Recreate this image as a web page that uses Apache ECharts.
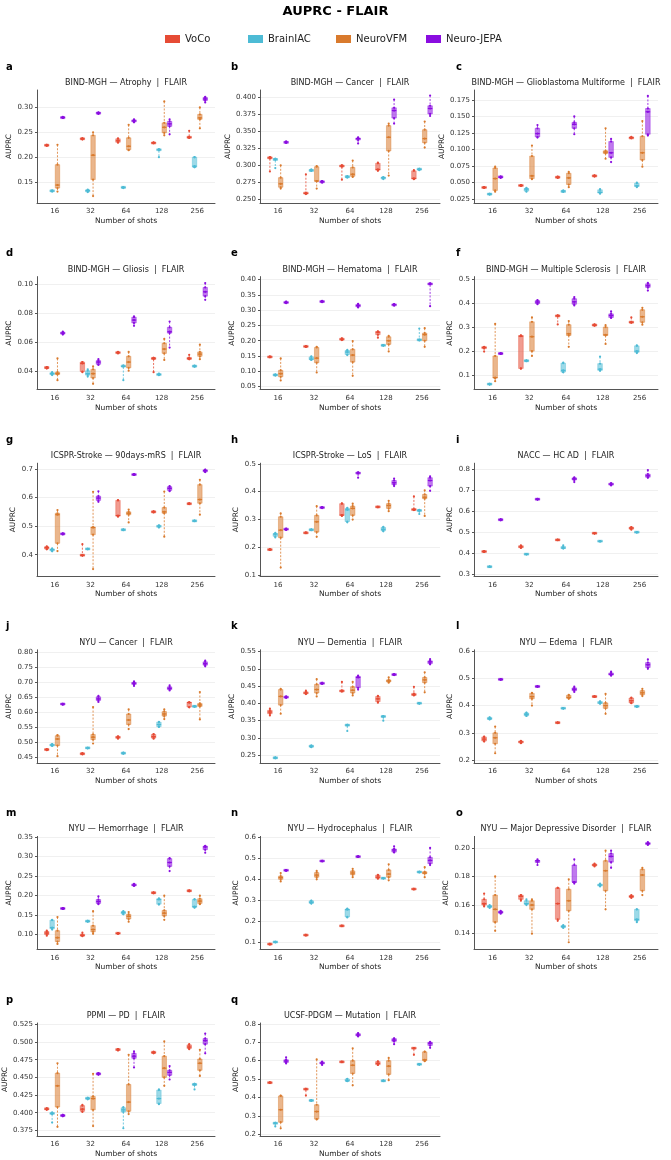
<!DOCTYPE html>
<html>
<head>
<meta charset="utf-8">
<script src="https://cdn.jsdelivr.net/npm/echarts@6/dist/echarts.min.js"></script>
<style>
  html, body { margin: 0; padding: 0; background: #fff; }
  #chart { width: 671px; height: 1160px; }
</style>
</head>
<body>
<div id="chart"></div>
<script>
const shots = ['16', '32', '64', '128', '256']
const models = ['VoCo', 'BrainIAC', 'NeuroVFM', 'Neuro-JEPA']
const colors = ['#E64B35', '#4DBBD5', '#D97A2D', '#8A0DE0']

// every box: [min, q1, median, q3, max], one per shot; rows = VoCo, BrainIAC, NeuroVFM, Neuro-JEPA
const atrophy = [
  [[0.223,0.223,0.224,0.225,0.225],[0.236,0.236,0.237,0.238,0.238],[0.229,0.230,0.233,0.237,0.238],[0.228,0.228,0.229,0.229,0.230],[0.239,0.239,0.240,0.241,0.253]],
  [[0.131,0.132,0.132,0.133,0.133],[0.130,0.131,0.133,0.134,0.135],[0.138,0.139,0.139,0.140,0.140],[0.200,0.214,0.215,0.216,0.216],[0.180,0.180,0.182,0.200,0.200]],
  [[0.131,0.138,0.144,0.185,0.225],[0.122,0.155,0.204,0.244,0.250],[0.214,0.215,0.222,0.239,0.265],[0.244,0.249,0.260,0.269,0.312],[0.258,0.276,0.279,0.286,0.300]],
  [[0.279,0.279,0.280,0.280,0.281],[0.287,0.288,0.289,0.289,0.290],[0.270,0.271,0.273,0.275,0.276],[0.246,0.262,0.267,0.272,0.276],[0.310,0.314,0.317,0.320,0.321]]
]
const bindCancer = [
  [[0.291,0.310,0.311,0.312,0.312],[0.258,0.259,0.259,0.260,0.287],[0.279,0.298,0.299,0.300,0.300],[0.292,0.293,0.294,0.303,0.304],[0.280,0.280,0.281,0.292,0.293]],
  [[0.296,0.308,0.309,0.309,0.310],[0.292,0.292,0.293,0.293,0.294],[0.282,0.283,0.283,0.284,0.284],[0.280,0.281,0.282,0.282,0.283],[0.293,0.294,0.294,0.295,0.295]],
  [[0.266,0.268,0.273,0.282,0.300],[0.266,0.277,0.277,0.298,0.299],[0.283,0.284,0.287,0.297,0.307],[0.285,0.321,0.341,0.358,0.361],[0.326,0.333,0.339,0.352,0.364]],
  [[0.333,0.333,0.334,0.334,0.335],[0.275,0.275,0.276,0.277,0.277],[0.332,0.337,0.339,0.340,0.341],[0.361,0.369,0.380,0.384,0.396],[0.372,0.375,0.383,0.387,0.402]]
]
const gbm = [
  [[0.042,0.042,0.0425,0.043,0.043],[0.045,0.045,0.0455,0.046,0.046],[0.057,0.0575,0.058,0.0585,0.059],[0.059,0.0595,0.060,0.0605,0.061],[0.117,0.117,0.118,0.118,0.119]],
  [[0.032,0.032,0.0325,0.033,0.033],[0.036,0.037,0.040,0.041,0.042],[0.036,0.036,0.037,0.037,0.038],[0.033,0.034,0.035,0.039,0.040],[0.043,0.044,0.045,0.049,0.050]],
  [[0.036,0.038,0.056,0.072,0.074],[0.055,0.056,0.060,0.090,0.106],[0.043,0.047,0.057,0.064,0.066],[0.086,0.094,0.096,0.098,0.132],[0.074,0.084,0.095,0.120,0.143]],
  [[0.057,0.058,0.058,0.059,0.059],[0.118,0.119,0.124,0.132,0.137],[0.123,0.132,0.138,0.141,0.150],[0.081,0.088,0.095,0.112,0.116],[0.121,0.123,0.157,0.162,0.181]]
]
const gliosis = [
  [[0.0415,0.042,0.042,0.0425,0.0425],[0.039,0.0395,0.045,0.046,0.046],[0.052,0.0523,0.0525,0.0528,0.053],[0.039,0.048,0.0485,0.049,0.049],[0.048,0.048,0.0485,0.049,0.051]],
  [[0.037,0.0375,0.038,0.0385,0.039],[0.036,0.037,0.038,0.040,0.041],[0.0335,0.043,0.043,0.0435,0.0435],[0.037,0.037,0.0375,0.0378,0.038],[0.0428,0.043,0.0432,0.0434,0.0435]],
  [[0.0335,0.0375,0.038,0.039,0.0485],[0.031,0.035,0.038,0.041,0.043],[0.040,0.042,0.046,0.050,0.053],[0.0475,0.052,0.055,0.059,0.062],[0.048,0.050,0.0515,0.053,0.058]],
  [[0.065,0.0655,0.066,0.0665,0.067],[0.044,0.0445,0.046,0.047,0.048],[0.071,0.073,0.075,0.077,0.0775],[0.056,0.066,0.067,0.070,0.074],[0.089,0.0915,0.0945,0.0975,0.1005]]
]
const hematoma = [
  [[0.146,0.146,0.147,0.148,0.148],[0.180,0.181,0.181,0.182,0.182],[0.202,0.203,0.205,0.207,0.208],[0.210,0.220,0.228,0.230,0.231],null],
  [[0.086,0.087,0.088,0.089,0.089],[0.137,0.138,0.140,0.147,0.149],[0.153,0.155,0.163,0.168,0.170],[0.184,0.184,0.185,0.186,0.186],[0.201,0.202,0.203,0.204,0.240]],
  [[0.070,0.082,0.092,0.103,0.142],[0.096,0.128,0.143,0.178,0.180],[0.085,0.130,0.153,0.172,0.199],[0.165,0.188,0.200,0.213,0.216],[0.180,0.200,0.220,0.225,0.241]],
  [[0.323,0.324,0.325,0.327,0.328],[0.326,0.327,0.328,0.330,0.331],[0.309,0.311,0.315,0.319,0.321],[0.315,0.316,0.318,0.319,0.320],[0.313,0.385,0.386,0.387,0.388]]
]
const sclerosis = [
  [[0.198,0.212,0.215,0.217,0.218],[0.127,0.128,0.262,0.265,0.266],[0.311,0.345,0.347,0.348,0.349],[0.306,0.307,0.308,0.310,0.311],[0.318,0.319,0.320,0.322,0.340]],
  [[0.061,0.062,0.063,0.064,0.064],[0.158,0.159,0.160,0.161,0.162],[0.112,0.113,0.120,0.150,0.152],[0.118,0.120,0.125,0.148,0.177],[0.192,0.195,0.200,0.222,0.224]],
  [[0.075,0.088,0.090,0.180,0.313],[0.180,0.200,0.260,0.322,0.340],[0.218,0.265,0.272,0.310,0.325],[0.230,0.265,0.268,0.300,0.308],[0.310,0.320,0.343,0.372,0.380]],
  [[0.188,0.189,0.190,0.191,0.192],[0.395,0.398,0.404,0.410,0.412],[0.390,0.395,0.405,0.418,0.425],[0.338,0.340,0.348,0.355,0.365],[0.452,0.465,0.472,0.480,0.484]]
]
const mrs90 = [
  [[0.419,0.420,0.425,0.428,0.429],[0.397,0.398,0.398,0.399,0.437],[0.533,0.535,0.537,0.590,0.591],[0.548,0.549,0.550,0.551,0.552],[0.577,0.578,0.578,0.579,0.580]],
  [[0.412,0.414,0.418,0.420,0.422],[0.419,0.420,0.420,0.421,0.421],[0.486,0.487,0.487,0.488,0.488],[0.495,0.497,0.500,0.502,0.503],[0.517,0.518,0.518,0.519,0.519]],
  [[0.413,0.440,0.540,0.545,0.556],[0.350,0.470,0.495,0.497,0.620],[0.513,0.540,0.545,0.550,0.558],[0.463,0.545,0.550,0.565,0.621],[0.540,0.580,0.593,0.645,0.662]],
  [[0.471,0.472,0.473,0.474,0.475],[0.585,0.590,0.598,0.605,0.622],[0.679,0.680,0.680,0.681,0.682],[0.622,0.625,0.632,0.638,0.640],[0.689,0.690,0.694,0.697,0.698]]
]
const los = [
  [[0.191,0.192,0.192,0.193,0.193],[0.251,0.252,0.252,0.253,0.253],[0.313,0.315,0.316,0.357,0.358],[0.344,0.345,0.345,0.346,0.346],[0.334,0.335,0.336,0.337,0.383]],
  [[0.236,0.240,0.248,0.250,0.252],[0.262,0.263,0.263,0.264,0.264],[0.290,0.293,0.335,0.340,0.342],[0.258,0.260,0.265,0.272,0.274],[0.320,0.330,0.333,0.334,0.335]],
  [[0.128,0.235,0.262,0.310,0.322],[0.238,0.255,0.292,0.315,0.348],[0.300,0.315,0.340,0.348,0.357],[0.330,0.340,0.350,0.357,0.367],[0.313,0.375,0.380,0.390,0.405]],
  [[0.263,0.264,0.265,0.267,0.268],[0.341,0.342,0.343,0.344,0.345],[0.450,0.465,0.467,0.468,0.469],[0.420,0.425,0.432,0.440,0.447],[0.403,0.420,0.440,0.450,0.455]]
]
const hcad = [
  [[0.406,0.407,0.408,0.409,0.410],[0.425,0.427,0.430,0.435,0.437],[0.462,0.463,0.463,0.464,0.465],[0.494,0.495,0.495,0.496,0.496],[0.512,0.515,0.520,0.524,0.525]],
  [[0.334,0.335,0.335,0.336,0.336],[0.394,0.395,0.395,0.396,0.396],[0.422,0.424,0.425,0.430,0.438],[0.456,0.457,0.457,0.458,0.458],[0.499,0.500,0.500,0.501,0.501]],
  [null, null, null, null, null],
  [[0.557,0.559,0.560,0.561,0.562],[0.656,0.657,0.658,0.659,0.660],[0.740,0.750,0.755,0.760,0.762],[0.724,0.727,0.730,0.733,0.735],[0.760,0.763,0.770,0.778,0.797]]
]
const nyuCancer = [
  [[0.475,0.476,0.477,0.478,0.478],[0.461,0.462,0.463,0.464,0.465],[0.513,0.515,0.518,0.520,0.521],[0.513,0.515,0.520,0.527,0.528],[0.617,0.618,0.633,0.634,0.634]],
  [[0.489,0.490,0.492,0.494,0.495],[0.481,0.482,0.482,0.483,0.483],[0.463,0.464,0.465,0.466,0.467],[0.552,0.553,0.560,0.568,0.569],[0.619,0.620,0.620,0.621,0.621]],
  [[0.455,0.490,0.512,0.523,0.525],[0.497,0.510,0.518,0.527,0.618],[0.545,0.560,0.575,0.595,0.610],[0.578,0.588,0.595,0.603,0.610],[0.577,0.620,0.625,0.630,0.668]],
  [[0.626,0.627,0.628,0.629,0.629],[0.635,0.640,0.645,0.652,0.655],[0.688,0.693,0.697,0.700,0.703],[0.673,0.676,0.680,0.685,0.690],[0.753,0.757,0.762,0.768,0.772]]
]
const dementia = [
  [[0.365,0.370,0.375,0.380,0.385],[0.427,0.428,0.430,0.433,0.437],[0.434,0.435,0.436,0.437,0.462],[0.402,0.405,0.413,0.420,0.422],[0.423,0.424,0.425,0.428,0.448]],
  [[0.241,0.242,0.242,0.243,0.243],[0.273,0.274,0.276,0.278,0.278],[0.320,0.336,0.337,0.338,0.338],[0.350,0.361,0.362,0.363,0.363],[0.399,0.400,0.400,0.401,0.401]],
  [[0.370,0.395,0.420,0.440,0.442],[0.420,0.430,0.440,0.455,0.470],[0.423,0.430,0.438,0.448,0.462],[0.460,0.462,0.465,0.468,0.475],[0.432,0.460,0.468,0.475,0.490]],
  [[0.416,0.417,0.418,0.419,0.420],[0.457,0.457,0.458,0.459,0.459],[0.440,0.445,0.475,0.478,0.480],[0.482,0.483,0.483,0.484,0.484],[0.513,0.515,0.520,0.523,0.528]]
]
const edema = [
  [[0.268,0.270,0.277,0.285,0.286],[0.262,0.263,0.267,0.270,0.271],[0.336,0.337,0.337,0.338,0.338],[0.432,0.433,0.433,0.434,0.434],[0.409,0.410,0.418,0.428,0.429]],
  [[0.349,0.350,0.352,0.356,0.357],[0.362,0.363,0.368,0.373,0.374],[0.389,0.390,0.390,0.391,0.391],[0.407,0.408,0.410,0.415,0.416],[0.396,0.397,0.397,0.398,0.398]],
  [[0.225,0.260,0.282,0.300,0.323],[0.400,0.425,0.433,0.445,0.447],[0.425,0.427,0.430,0.438,0.440],[0.370,0.390,0.400,0.410,0.443],[0.435,0.440,0.447,0.455,0.462]],
  [[0.495,0.496,0.496,0.497,0.497],[0.469,0.470,0.470,0.471,0.471],[0.450,0.455,0.460,0.465,0.470],[0.510,0.512,0.515,0.520,0.525],[0.535,0.540,0.550,0.558,0.570]]
]
const hemorrhage = [
  [[0.097,0.100,0.104,0.108,0.110],[0.096,0.097,0.098,0.100,0.105],[0.102,0.103,0.103,0.104,0.104],[0.206,0.207,0.207,0.208,0.208],[0.211,0.212,0.212,0.213,0.213]],
  [[0.113,0.115,0.118,0.137,0.138],[0.133,0.134,0.134,0.135,0.135],[0.152,0.153,0.157,0.159,0.160],[0.177,0.178,0.190,0.192,0.193],[0.169,0.170,0.172,0.190,0.191]],
  [[0.076,0.082,0.092,0.110,0.145],[0.102,0.107,0.113,0.123,0.160],[0.133,0.140,0.147,0.152,0.158],[0.138,0.148,0.155,0.162,0.200],[0.178,0.180,0.186,0.192,0.200]],
  [[0.166,0.166,0.167,0.168,0.168],[0.178,0.180,0.185,0.190,0.198],[0.225,0.226,0.227,0.229,0.230],[0.263,0.275,0.285,0.295,0.296],[0.310,0.318,0.325,0.327,0.328]]
]
const hydrocephalus = [
  [[0.089,0.090,0.090,0.091,0.091],[0.132,0.133,0.133,0.134,0.134],[0.176,0.177,0.177,0.178,0.178],[0.403,0.405,0.410,0.420,0.421],[0.352,0.353,0.353,0.354,0.354]],
  [[0.099,0.100,0.100,0.101,0.101],[0.284,0.285,0.290,0.297,0.298],[0.218,0.220,0.255,0.258,0.260],[0.404,0.405,0.405,0.406,0.406],[0.433,0.434,0.435,0.436,0.436]],
  [[0.390,0.400,0.408,0.415,0.430],[0.400,0.410,0.420,0.432,0.440],[0.410,0.422,0.430,0.440,0.450],[0.395,0.410,0.425,0.445,0.472],[0.410,0.428,0.430,0.435,0.458]],
  [[0.441,0.442,0.443,0.444,0.444],[0.486,0.487,0.487,0.488,0.488],[0.507,0.508,0.508,0.509,0.509],[0.528,0.530,0.540,0.545,0.558],[0.468,0.475,0.490,0.505,0.550]]
]
const depression = [
  [[0.159,0.160,0.161,0.164,0.168],[0.163,0.164,0.166,0.167,0.167],[0.149,0.150,0.161,0.172,0.172],[0.187,0.1875,0.188,0.1885,0.189],[0.165,0.1655,0.166,0.1665,0.167]],
  [[0.158,0.1585,0.159,0.1595,0.160],[0.160,0.1605,0.161,0.163,0.164],[0.144,0.1445,0.145,0.1455,0.146],[0.173,0.1735,0.174,0.1745,0.175],[0.148,0.149,0.150,0.157,0.157]],
  [[0.142,0.148,0.157,0.167,0.180],[0.140,0.157,0.160,0.163,0.164],[0.134,0.156,0.163,0.171,0.178],[0.157,0.170,0.184,0.191,0.198],[0.167,0.170,0.181,0.185,0.186]],
  [[0.154,0.1545,0.155,0.1555,0.156],[0.188,0.190,0.191,0.191,0.192],[0.175,0.176,0.176,0.188,0.192],[0.186,0.190,0.194,0.196,0.198],[0.202,0.2025,0.203,0.2035,0.204]]
]
const ppmi = [
  [[0.404,0.405,0.405,0.406,0.406],[0.401,0.402,0.405,0.410,0.411],[0.488,0.489,0.489,0.490,0.490],[0.484,0.485,0.485,0.486,0.486],[0.490,0.491,0.493,0.496,0.497]],
  [[0.386,0.398,0.399,0.400,0.400],[0.419,0.420,0.420,0.421,0.421],[0.378,0.401,0.404,0.407,0.408],[0.412,0.413,0.420,0.432,0.433],[0.433,0.439,0.440,0.441,0.441]],
  [[0.380,0.408,0.438,0.456,0.470],[0.381,0.404,0.420,0.423,0.455],[0.398,0.402,0.415,0.440,0.482],[0.438,0.450,0.463,0.480,0.501],[0.452,0.460,0.470,0.476,0.489]],
  [[0.395,0.395,0.396,0.397,0.397],[0.454,0.454,0.455,0.456,0.456],[0.464,0.477,0.480,0.484,0.487],[0.447,0.453,0.457,0.460,0.466],[0.484,0.497,0.502,0.505,0.512]]
]
const mutation = [
  [[0.479,0.480,0.480,0.481,0.481],[0.410,0.444,0.445,0.446,0.446],[0.592,0.593,0.593,0.594,0.594],[0.577,0.578,0.585,0.595,0.596],[0.632,0.667,0.668,0.669,0.669]],
  [[0.242,0.258,0.260,0.261,0.262],[0.382,0.383,0.383,0.384,0.384],[0.488,0.490,0.490,0.500,0.501],[0.489,0.490,0.490,0.491,0.491],[0.579,0.580,0.580,0.581,0.581]],
  [[0.232,0.265,0.333,0.408,0.410],[0.280,0.282,0.323,0.360,0.607],[0.466,0.530,0.575,0.600,0.667],[0.494,0.525,0.570,0.600,0.615],[0.597,0.600,0.605,0.648,0.650]],
  [[0.585,0.590,0.598,0.605,0.618],[0.577,0.583,0.587,0.592,0.595],[0.732,0.735,0.740,0.747,0.750],[0.690,0.705,0.712,0.720,0.722],[0.670,0.683,0.695,0.700,0.702]]
]

const panelTitles = [
  'BIND-MGH — Atrophy  |  FLAIR', 'BIND-MGH — Cancer  |  FLAIR', 'BIND-MGH — Glioblastoma Multiforme  |  FLAIR',
  'BIND-MGH — Gliosis  |  FLAIR', 'BIND-MGH — Hematoma  |  FLAIR', 'BIND-MGH — Multiple Sclerosis  |  FLAIR',
  'ICSPR-Stroke — 90days-mRS  |  FLAIR', 'ICSPR-Stroke — LoS  |  FLAIR', 'NACC — HC AD  |  FLAIR',
  'NYU — Cancer  |  FLAIR', 'NYU — Dementia  |  FLAIR', 'NYU — Edema  |  FLAIR',
  'NYU — Hemorrhage  |  FLAIR', 'NYU — Hydrocephalus  |  FLAIR', 'NYU — Major Depressive Disorder  |  FLAIR',
  'PPMI — PD  |  FLAIR', 'UCSF-PDGM — Mutation  |  FLAIR'
]
const panelLetters = ['a','b','c','d','e','f','g','h','i','j','k','l','m','n','o','p','q']

const yTicks = [
  ['0.15','0.20','0.25','0.30'],
  ['0.250','0.275','0.300','0.325','0.350','0.375','0.400'],
  ['0.025','0.050','0.075','0.100','0.125','0.150','0.175'],
  ['0.04','0.06','0.08','0.10'],
  ['0.05','0.10','0.15','0.20','0.25','0.30','0.35','0.40'],
  ['0.1','0.2','0.3','0.4','0.5'],
  ['0.4','0.5','0.6','0.7'],
  ['0.1','0.2','0.3','0.4','0.5'],
  ['0.3','0.4','0.5','0.6','0.7','0.8'],
  ['0.45','0.50','0.55','0.60','0.65','0.70','0.75','0.80'],
  ['0.25','0.30','0.35','0.40','0.45','0.50','0.55'],
  ['0.2','0.3','0.4','0.5','0.6'],
  ['0.10','0.15','0.20','0.25','0.30','0.35'],
  ['0.1','0.2','0.3','0.4','0.5','0.6'],
  ['0.14','0.16','0.18','0.20'],
  ['0.375','0.400','0.425','0.450','0.475','0.500','0.525'],
  ['0.2','0.3','0.4','0.5','0.6','0.7','0.8']
]
const yRanges = [
  [0.108, 0.335], [0.245, 0.41], [0.019, 0.19], [0.027, 0.105], [0.04, 0.41], [0.04, 0.51],
  [0.325, 0.72], [0.097, 0.502], [0.29, 0.83], [0.433, 0.808], [0.228, 0.555], [0.19, 0.605],
  [0.062, 0.352], [0.065, 0.605], [0.129, 0.208], [0.367, 0.527], [0.19, 0.805]
]

const panels = [atrophy, bindCancer, gbm, gliosis, hematoma, sclerosis, mrs90, los, hcad,
  nyuCancer, dementia, edema, hemorrhage, hydrocephalus, depression, ppmi, mutation]

const FONT = 'DejaVu Sans'
const colLeft = [37, 260, 474]
const colRight = [215, 440, 658]
const rowTop0 = 90, rowStep = 186.6, plotH = 113

function fade (hex, a) {
  const n = parseInt(hex.slice(1), 16)
  return 'rgba(' + (n >> 16) + ',' + ((n >> 8) & 255) + ',' + (n & 255) + ',' + a + ')'
}

function boxRenderer (m) {
  const color = colors[m]
  return function (params, api) {
    const ci = api.value(0)
    const band = api.size([1, 0])[0]
    const x = api.coord([ci, api.value(3)])[0] + (m - 1.5) * band * 0.15
    const w = band * 0.125
    const yOf = i => api.coord([ci, api.value(i)])[1]
    const yLo = yOf(1), yQ1 = yOf(2), yMed = yOf(3), yQ3 = yOf(4), yHi = yOf(5)
    let top = yQ3, bot = yQ1
    if (bot - top < 2) { const c = (top + bot) / 2; top = c - 1; bot = c + 1 }
    const dash = { stroke: color, lineWidth: 0.8, lineDash: [2, 1.5], fill: null }
    const kids = [
      { type: 'line', shape: { x1: x, y1: yHi, x2: x, y2: top }, style: dash },
      { type: 'line', shape: { x1: x, y1: bot, x2: x, y2: yLo }, style: dash },
      { type: 'rect', shape: { x: x - w / 2, y: top, width: w, height: bot - top },
        style: { fill: fade(color, 0.55), stroke: fade(color, 0.8), lineWidth: 0.5 } },
      { type: 'line', shape: { x1: x - w / 2, y1: yMed, x2: x + w / 2, y2: yMed },
        style: { stroke: color, lineWidth: 1.2 } }
    ]
    ;[yLo, yQ1, yMed, yQ3, yHi].forEach(yy => {
      kids.push({ type: 'circle', shape: { cx: x, cy: yy, r: 1.1 }, style: { fill: color } })
    })
    return { type: 'group', children: kids }
  }
}

const grids = [], xAxes = [], yAxes = [], series = []
const titles = [{
  text: 'AUPRC - FLAIR', left: 335.5, textAlign: 'center', top: 5, padding: 0,
  textStyle: { fontFamily: FONT, fontSize: 13, fontWeight: 'bold', color: '#000' }
}]

panels.forEach((boxes, p) => {
  const r = Math.floor(p / 3), c = p % 3
  const top = rowTop0 + r * rowStep
  const left = colLeft[c], width = colRight[c] - colLeft[c]
  grids.push({ left: left, top: top, width: width, height: plotH })

  titles.push({
    text: panelTitles[p], left: left + width / 2, textAlign: 'center', top: top - 11, padding: 0,
    textStyle: { fontFamily: FONT, fontSize: 8, fontWeight: 'normal', color: '#222' }
  })
  titles.push({
    text: panelLetters[p], left: [6, 231, 456][c], top: top - 28, padding: 0,
    textStyle: { fontFamily: FONT, fontSize: 10, fontWeight: 'bold', color: '#000' }
  })

  xAxes.push({
    gridIndex: p, type: 'category', data: shots, boundaryGap: true,
    name: 'Number of shots', nameLocation: 'middle', nameGap: 14,
    nameTextStyle: { fontFamily: FONT, fontSize: 7.5, color: '#222' },
    axisLine: { lineStyle: { color: '#555', width: 1 } },
    axisTick: { show: false },
    axisLabel: { fontFamily: FONT, fontSize: 7, color: '#333', margin: 5 },
    splitLine: { show: false }
  })

  const ticks = yTicks[p]
  const dec = ticks[0].split('.')[1].length
  const vals = ticks.map(Number)
  const labW = ticks[0].length * 3.9
  yAxes.push({
    gridIndex: p, type: 'value', min: yRanges[p][0], max: yRanges[p][1],
    name: 'AUPRC', nameLocation: 'middle', nameGap: labW + 8, nameRotate: 90,
    nameTextStyle: { fontFamily: FONT, fontSize: 7.5, color: '#222' },
    axisLine: { show: true, lineStyle: { color: '#555', width: 1 } },
    axisTick: { show: true, length: 2, customValues: vals, lineStyle: { color: '#555' } },
    axisLabel: {
      customValues: vals, fontFamily: FONT, fontSize: 7, color: '#333', margin: 4,
      formatter: v => Number(v).toFixed(dec)
    },
    splitLine: { show: true, lineStyle: { color: '#ececec', width: 0.8 } }
  })

  boxes.forEach((rows, m) => {
    const data = []
    rows.forEach((b, ci) => { if (b) data.push([ci].concat(b)) })
    series.push({
      name: models[m], type: 'custom', coordinateSystem: 'cartesian2d',
      xAxisIndex: p, yAxisIndex: p, clip: false,
      itemStyle: { color: colors[m] },
      encode: { x: 0, y: [1, 5] },
      renderItem: boxRenderer(m),
      data: data
    })
  })
})

const legendLeft = [165, 248, 336, 426]
const legends = models.map((name, i) => ({
  data: [{ name: name, icon: 'rect', itemStyle: { color: colors[i] } }],
  left: legendLeft[i], top: 34, itemWidth: 15, itemHeight: 8, itemGap: 5, padding: 0,
  selectedMode: false,
  textStyle: { fontFamily: FONT, fontSize: 10, color: '#222' }
}))

const chart = echarts.init(document.getElementById('chart'), null, { renderer: 'canvas' })
chart.setOption({
  animation: false,
  backgroundColor: '#fff',
  textStyle: { fontFamily: FONT },
  title: titles,
  legend: legends,
  grid: grids,
  xAxis: xAxes,
  yAxis: yAxes,
  series: series
})
</script>
</body>
</html>
